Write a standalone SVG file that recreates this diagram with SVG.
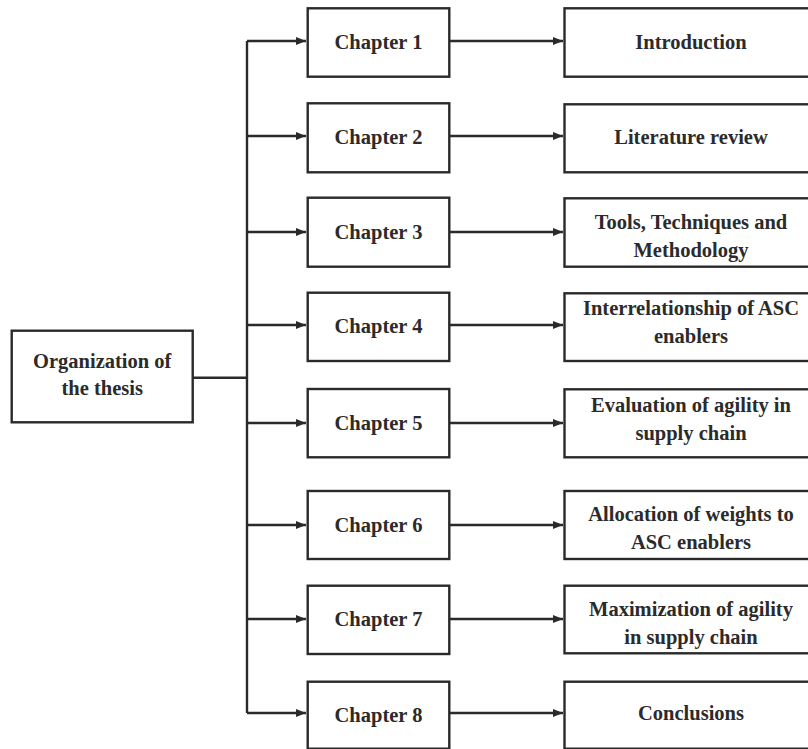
<svg xmlns="http://www.w3.org/2000/svg" width="808" height="749" viewBox="0 0 808 749">
<style>
.box{fill:#fff;stroke:#2a2a2a;stroke-width:2.4}
.t{font-family:"Liberation Serif","Times New Roman",serif;font-weight:bold;font-size:20.5px;fill:#2b2b2b;text-anchor:middle}
.c{fill:none;stroke:#2a2a2a;stroke-width:2.4}
</style>
<defs>
<marker id="ah" markerWidth="10" markerHeight="8" refX="10" refY="4" orient="auto" markerUnits="userSpaceOnUse">
<path d="M0,0 L10,4 L0,8 Z" fill="#2a2a2a"/>
</marker>
</defs>
<rect width="808" height="749" fill="#fff"/>
<g id="connectors">
<path class="c" d="M192.7,377.7 H247"/>
<path class="c" d="M247,41 V713"/>
<path class="c" d="M247,41 H306" marker-end="url(#ah)"/>
<path class="c" d="M247,136 H306" marker-end="url(#ah)"/>
<path class="c" d="M247,232 H306" marker-end="url(#ah)"/>
<path class="c" d="M247,325 H306" marker-end="url(#ah)"/>
<path class="c" d="M247,423 H306" marker-end="url(#ah)"/>
<path class="c" d="M247,525 H306" marker-end="url(#ah)"/>
<path class="c" d="M247,619 H306" marker-end="url(#ah)"/>
<path class="c" d="M247,713 H306" marker-end="url(#ah)"/>
<path class="c" d="M449.3,41 H563" marker-end="url(#ah)"/>
<path class="c" d="M449.3,136 H563" marker-end="url(#ah)"/>
<path class="c" d="M449.3,232 H563" marker-end="url(#ah)"/>
<path class="c" d="M449.3,325 H563" marker-end="url(#ah)"/>
<path class="c" d="M449.3,423 H563" marker-end="url(#ah)"/>
<path class="c" d="M449.3,525 H563" marker-end="url(#ah)"/>
<path class="c" d="M449.3,619 H563" marker-end="url(#ah)"/>
<path class="c" d="M449.3,713 H563" marker-end="url(#ah)"/>
</g>
<g id="org">
<rect class="box" x="11.7" y="330.7" width="181" height="91.6"/>
<text class="t" x="102.2" y="368">Organization of</text>
<text class="t" x="102.2" y="395">the thesis</text>
</g>
<g id="ch1"><rect class="box" x="307.7" y="8.3" width="141.6" height="68.4"/><text class="t" x="378.5" y="49">Chapter 1</text></g>
<g id="ch2"><rect class="box" x="307.7" y="103.3" width="141.6" height="69"/><text class="t" x="378.5" y="143.5">Chapter 2</text></g>
<g id="ch3"><rect class="box" x="307.7" y="197.7" width="141.6" height="69"/><text class="t" x="378.5" y="239">Chapter 3</text></g>
<g id="ch4"><rect class="box" x="307.7" y="292.7" width="141.6" height="68.3"/><text class="t" x="378.5" y="333">Chapter 4</text></g>
<g id="ch5"><rect class="box" x="307.7" y="389" width="141.6" height="68.3"/><text class="t" x="378.5" y="430">Chapter 5</text></g>
<g id="ch6"><rect class="box" x="307.7" y="491" width="141.6" height="68"/><text class="t" x="378.5" y="531.5">Chapter 6</text></g>
<g id="ch7"><rect class="box" x="307.7" y="585.7" width="141.6" height="68.3"/><text class="t" x="378.5" y="625.5">Chapter 7</text></g>
<g id="ch8"><rect class="box" x="307.7" y="681.7" width="141.6" height="67"/><text class="t" x="378.5" y="721.5">Chapter 8</text></g>
<g id="r1"><rect class="box" x="564.5" y="8.3" width="260" height="68.4"/><text class="t" x="691" y="48.5">Introduction</text></g>
<g id="r2"><rect class="box" x="564.5" y="104.3" width="260" height="68"/><text class="t" x="691" y="143.5">Literature review</text></g>
<g id="r3"><rect class="box" x="564.5" y="198.3" width="260" height="68.4"/><text class="t" x="691" y="229">Tools, Techniques and</text><text class="t" x="691" y="257">Methodology</text></g>
<g id="r4"><rect class="box" x="564.5" y="293.3" width="260" height="67.7"/><text class="t" x="691" y="315">Interrelationship of ASC</text><text class="t" x="691" y="343">enablers</text></g>
<g id="r5"><rect class="box" x="564.5" y="389.3" width="260" height="68"/><text class="t" x="691" y="412">Evaluation of agility in</text><text class="t" x="691" y="440">supply chain</text></g>
<g id="r6"><rect class="box" x="564.5" y="491" width="260" height="68"/><text class="t" x="691" y="521">Allocation of weights to</text><text class="t" x="691" y="548.5">ASC enablers</text></g>
<g id="r7"><rect class="box" x="564.5" y="585.7" width="260" height="67.6"/><text class="t" x="691" y="616">Maximization of agility</text><text class="t" x="691" y="643.5">in supply chain</text></g>
<g id="r8"><rect class="box" x="564.5" y="681.7" width="260" height="67"/><text class="t" x="691" y="720">Conclusions</text></g>
</svg>
